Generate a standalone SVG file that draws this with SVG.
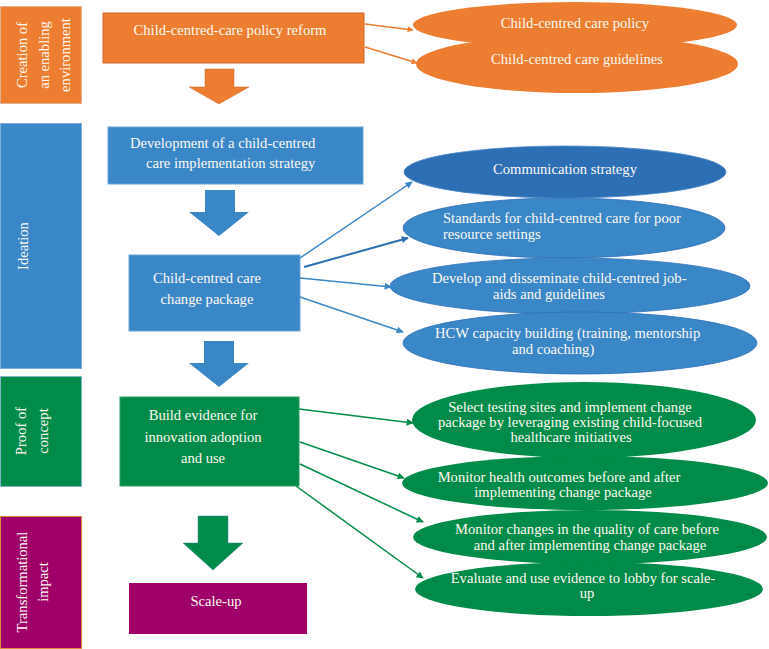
<svg xmlns="http://www.w3.org/2000/svg" width="769" height="649" viewBox="0 0 769 649" font-family="'Liberation Serif', 'Times New Roman', 'DejaVu Serif', serif" font-size="14.6">
<defs>
<style>
text{font-family:'Liberation Serif','Times New Roman','DejaVu Serif',serif;font-size:14.6px;fill:#fdf8f0}
.c{text-anchor:middle}
.v{text-anchor:middle}
.or{fill:#ED7D31}
.bl{fill:#3A87C7}
.bd{fill:#2D6FB5}
.gr{fill:#008C48}
.pu{fill:#9E0068}
.lo{stroke:#ED7D31;stroke-width:1.5;fill:none}
.lb{stroke:#3A87C7;stroke-width:1.5;fill:none}
.lbd{stroke:#2D6FB5;stroke-width:2;fill:none}
.lg{stroke:#008C48;stroke-width:1.5;fill:none}
</style>
<marker id="ao" viewBox="0 0 10 10" refX="9" refY="5" markerWidth="8" markerHeight="6" orient="auto" markerUnits="userSpaceOnUse"><path d="M0,0 L10,5 L0,10 z" fill="#ED7D31"/></marker>
<marker id="ab" viewBox="0 0 10 10" refX="9" refY="5" markerWidth="9" markerHeight="7" orient="auto" markerUnits="userSpaceOnUse"><path d="M0,0 L10,5 L0,10 z" fill="#3A87C7"/></marker>
<marker id="abd" viewBox="0 0 10 10" refX="9" refY="5" markerWidth="9" markerHeight="7" orient="auto" markerUnits="userSpaceOnUse"><path d="M0,0 L10,5 L0,10 z" fill="#2D6FB5"/></marker>
<marker id="ag" viewBox="0 0 10 10" refX="9" refY="5" markerWidth="9" markerHeight="7" orient="auto" markerUnits="userSpaceOnUse"><path d="M0,0 L10,5 L0,10 z" fill="#008C48"/></marker>
</defs>
<rect width="769" height="649" fill="#fff"/>

<!-- stage labels -->
<g id="stage-enabling">
<rect class="or" x="0.5" y="6.5" width="81" height="97" stroke="#E0B090" stroke-width="1"/>
<text class="v" transform="translate(27,55) rotate(-90)">Creation of</text>
<text class="v" transform="translate(49,55) rotate(-90)">an enabling</text>
<text class="v" transform="translate(70,55) rotate(-90)">environment</text>
</g>
<g id="stage-ideation">
<rect class="bl" x="0.5" y="123.5" width="81" height="245" stroke="#7FB0DC" stroke-width="1"/>
<text class="v" transform="translate(28,246) rotate(-90)">Ideation</text>
</g>
<g id="stage-proof">
<rect class="gr" x="0.5" y="376.5" width="81" height="110" stroke="#7FB8C8" stroke-width="1"/>
<text class="v" transform="translate(26,431) rotate(-90)">Proof of</text>
<text class="v" transform="translate(48,431) rotate(-90)">concept</text>
</g>
<g id="stage-impact">
<rect class="pu" x="0.5" y="516.5" width="81" height="132" stroke="#E08A40" stroke-width="1"/>
<text class="v" transform="translate(27,582) rotate(-90)">Transformational</text>
<text class="v" transform="translate(48,582) rotate(-90)">impact</text>
</g>

<!-- main boxes -->
<g id="policy-reform">
<rect class="or" x="103" y="13" width="261" height="50" stroke="#D06A28" stroke-width="1"/>
<text class="c" x="230" y="35">Child-centred-care policy reform</text>
</g>
<g id="strategy">
<rect class="bl" x="108" y="127" width="255" height="57" stroke="#6AA3D6" stroke-width="1"/>
<text x="130" y="148">Development of a child-centred</text>
<text x="146" y="168">care implementation strategy</text>
</g>
<g id="change-package">
<rect class="bl" x="129" y="255" width="171" height="76" stroke="#6AA3D6" stroke-width="1"/>
<text class="c" x="207" y="283">Child-centred care</text>
<text class="c" x="207" y="304">change package</text>
</g>
<g id="build-evidence">
<rect class="gr" x="120" y="397" width="179" height="89" stroke="#2E9A60" stroke-width="1"/>
<text class="c" x="203" y="420">Build evidence for</text>
<text class="c" x="203" y="442">innovation adoption</text>
<text class="c" x="203" y="463">and use</text>
</g>
<g id="scale-up">
<rect class="pu" x="129" y="583" width="178" height="51"/>
<text class="c" x="216" y="606">Scale-up</text>
</g>

<!-- block arrows -->
<g id="block-arrows">
<path class="or" d="M205,69 H234 V87 H249 L219,104 L189,87 H205 Z" stroke="#D06A28" stroke-width="0.5"/>
<path class="bl" d="M205,190 H235 V212 H249 L219,236 L189,212 H205 Z"/>
<path class="bl" d="M204,341 H234 V363 H249 L219,387 L189,363 H204 Z"/>
<path class="gr" d="M198,516 H228 V543 H243 L213,570 L183,543 H198 Z" stroke="#3A87A7" stroke-width="0.5"/>
</g>

<!-- outcome ellipses -->
<g id="cc-policy">
<ellipse class="or" cx="575" cy="25" rx="162" ry="23"/>
<text class="c" x="575" y="28">Child-centred care policy</text>
</g>
<g id="cc-guidelines">
<ellipse class="or" cx="577" cy="64" rx="161" ry="29"/>
<text class="c" x="577" y="64">Child-centred care guidelines</text>
</g>

<g id="communication">
<ellipse class="bd" cx="565" cy="172" rx="161" ry="26" stroke="#4A88C4" stroke-width="0.8"/>
<text class="c" x="565" y="174">Communication strategy</text>
</g>
<g id="standards">
<ellipse class="bl" cx="564" cy="228" rx="161" ry="30" stroke="#2D6FB5" stroke-width="0.8"/>
<text x="443" y="223">Standards for child-centred care for poor</text>
<text x="443" y="239">resource settings</text>
</g>
<g id="job-aids">
<ellipse class="bl" cx="570" cy="286" rx="180" ry="28" stroke="#2D6FB5" stroke-width="0.8"/>
<text x="432" y="283">Develop and disseminate child-centred job-</text>
<text x="493" y="299">aids and guidelines</text>
</g>
<g id="hcw-capacity">
<ellipse class="bl" cx="580" cy="343" rx="177" ry="31" stroke="#2D6FB5" stroke-width="0.8"/>
<text x="435" y="338">HCW capacity building (training, mentorship</text>
<text x="512" y="354">and coaching)</text>
</g>

<g id="select-sites">
<ellipse class="gr" cx="584" cy="420" rx="172" ry="38"/>
<text class="c" x="570" y="412">Select testing sites and implement change</text>
<text class="c" x="570" y="427">package by leveraging existing child-focused</text>
<text class="c" x="571" y="442">healthcare initiatives</text>
</g>
<g id="monitor-health">
<ellipse class="gr" cx="585" cy="483" rx="183" ry="27"/>
<text class="c" x="559" y="482">Monitor health outcomes before and after</text>
<text class="c" x="563" y="497">implementing change package</text>
</g>
<g id="monitor-quality">
<ellipse class="gr" cx="590" cy="537" rx="177" ry="27"/>
<text class="c" x="587" y="534">Monitor changes in the quality of care before</text>
<text class="c" x="590" y="550">and after implementing change package</text>
</g>
<g id="evaluate">
<ellipse class="gr" cx="589" cy="589" rx="174" ry="27"/>
<text class="c" x="583" y="583">Evaluate and use evidence to lobby for scale-</text>
<text class="c" x="587" y="598">up</text>
</g>

<!-- connectors -->
<g id="connectors">
<line class="lo" x1="365" y1="24" x2="413" y2="30" marker-end="url(#ao)"/>
<line class="lo" x1="365" y1="47" x2="417" y2="63" marker-end="url(#ao)"/>
<line class="lb" x1="300" y1="258" x2="412" y2="182" marker-end="url(#ab)"/>
<line class="lbd" x1="304" y1="267" x2="408" y2="238" marker-end="url(#abd)"/>
<line class="lb" x1="300" y1="278" x2="391" y2="287" marker-end="url(#ab)"/>
<line class="lb" x1="300" y1="297" x2="403" y2="332" marker-end="url(#ab)"/>
<line class="lg" x1="299" y1="409" x2="413" y2="423" marker-end="url(#ag)"/>
<line class="lg" x1="300" y1="442" x2="404" y2="478" marker-end="url(#ag)"/>
<line class="lg" x1="300" y1="464" x2="423" y2="522" marker-end="url(#ag)"/>
<line class="lg" x1="296" y1="486" x2="423" y2="578" marker-end="url(#ag)"/>
</g>
</svg>
